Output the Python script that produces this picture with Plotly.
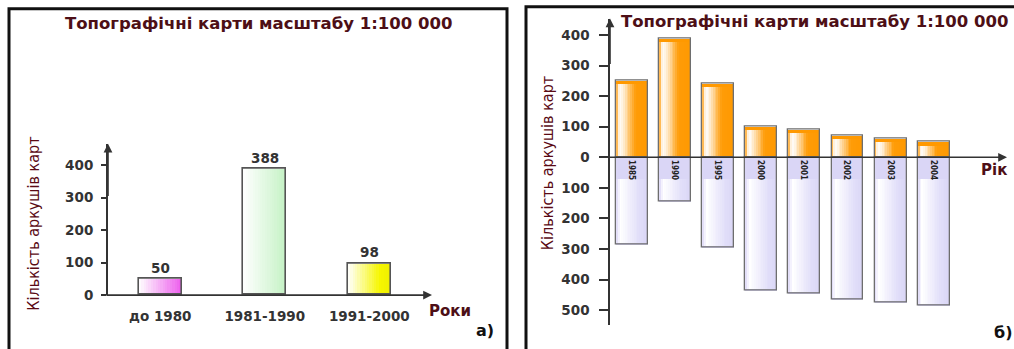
import plotly.graph_objects as go

W, H = 1014, 349

# ---- data: panel a) ----
periods = ["до 1980", "1981-1990", "1991-2000"]
sheets_a = [50, 388, 98]

# ---- data: panel б) ----
years = ["1985", "1990", "1995", "2000", "2001", "2002", "2003", "2004"]
upper_vals = [250, 390, 240, 100, 90, 70, 60, 50]
lower_vals = [285, 145, 295, 435, 445, 465, 475, 485]

y_ticks_a = [0, 100, 200, 300, 400]
y_ticks_b = [-500, -400, -300, -200, -100, 0, 100, 200, 300, 400]

TITLE = "Топографічні карти масштабу 1:100 000"
Y_TITLE = "Кількість аркушів карт"
MAROON = "#4d0f16"
DARK = "#333333"
BOLD = "DejaVu Sans, Verdana, sans-serif"
NARROW = "DejaVu Sans Condensed, Liberation Sans Narrow, sans-serif"
TICK = 13.5


def px_x(p):
    return p / W


def px_y(p):
    return 1 - p / H


def hex2rgb(h):
    h = h.lstrip("#")
    return tuple(int(h[i:i + 2], 16) for i in (0, 2, 4))


def ramp(stops, t):
    for (t0, c0), (t1, c1) in zip(stops, stops[1:]):
        if t0 <= t <= t1:
            f = 0 if t1 == t0 else (t - t0) / (t1 - t0)
            a, b = hex2rgb(c0), hex2rgb(c1)
            return "rgb(%d,%d,%d)" % tuple(round(a[i] + (b[i] - a[i]) * f) for i in range(3))
    return stops[-1][1]


def gradient_bars(fig, x, y, base, width, stops_per_bar, xa, ya, n=18):
    """Horizontal colour ramp inside each bar, built from thin side-by-side bars."""
    step = width / n
    for k in range(n):
        t = (k + 0.5) / n
        colors = [ramp(s, t) for s in stops_per_bar]
        off = -width / 2 + k * step
        w = min(step * 1.35, width / 2 - off)
        fig.add_trace(go.Bar(
            x=x, y=y, base=base, offset=off, width=w,
            marker=dict(color=colors, line=dict(width=0)),
            xaxis=xa, yaxis=ya, hoverinfo="skip", showlegend=False,
        ))


fig = go.Figure()

# ---------- panel a) ----------
xa_pos = list(range(len(periods)))
bw_a = 0.41
grad_a = [
    [(0, "#ffffff"), (1, "#ec5cec")],
    [(0, "#ffffff"), (1, "#c4f2c4")],
    [(0, "#ffffff"), (0.75, "#f6f600"), (1, "#eeee00")],
]
gradient_bars(fig, xa_pos, sheets_a, None, bw_a, grad_a, "x", "y")
fig.add_trace(go.Bar(
    x=xa_pos, y=sheets_a, width=bw_a,
    marker=dict(color="rgba(0,0,0,0)", line=dict(color="#555555", width=1.6)),
    xaxis="x", yaxis="y", hoverinfo="skip", showlegend=False,
))
# value labels just above each bar
for xi, v in zip(xa_pos, sheets_a):
    fig.add_annotation(x=xi, y=v, xref="x", yref="y", text=str(v),
                       showarrow=False, yanchor="middle", yshift=11,
                       font=dict(family=BOLD, size=TICK, color=DARK, weight="bold"))

# ---------- panel б) ----------
xb_pos = list(range(len(years)))
bw_b = 0.74
orange_stops = [(0, "#ff9900"), (0.05, "#ffd49a"), (0.1, "#ffffff"),
                (0.22, "#fff1dc"), (0.6, "#ff9c08"), (1, "#ff9900")]
lav_stops = [(0, "#d9d5f6"), (0.07, "#f1effc"), (0.14, "#ffffff"),
             (0.72, "#e1def9"), (1, "#dad6f6")]

fig.add_trace(go.Bar(
    x=xb_pos, y=upper_vals, width=bw_b,
    marker=dict(color="#ff9900", line=dict(width=0)),
    xaxis="x2", yaxis="y2", hoverinfo="skip", showlegend=False,
))
gradient_bars(fig, xb_pos, [v - 10 for v in upper_vals], None, bw_b,
              [orange_stops] * len(years), "x2", "y2")
fig.add_trace(go.Bar(
    x=xb_pos, y=upper_vals, width=bw_b,
    marker=dict(color="rgba(0,0,0,0)", line=dict(color="#6e6e6e", width=1.3)),
    xaxis="x2", yaxis="y2", hoverinfo="skip", showlegend=False,
))

fig.add_trace(go.Bar(
    x=xb_pos, y=[-v for v in lower_vals], width=bw_b,
    marker=dict(color="#dad6f6", line=dict(width=0)),
    xaxis="x2", yaxis="y2", hoverinfo="skip", showlegend=False,
))
gradient_bars(fig, xb_pos, [-(v - 76) for v in lower_vals], [-70] * len(years), bw_b,
              [lav_stops] * len(years), "x2", "y2")
fig.add_trace(go.Bar(
    x=xb_pos, y=[-v for v in lower_vals], width=bw_b,
    marker=dict(color="rgba(0,0,0,0)", line=dict(color="#6e6e6e", width=1.3)),
    text=years, textposition="inside", insidetextanchor="start", textangle=90,
    constraintext="none",
    insidetextfont=dict(family=NARROW, size=8, color="#222222", weight="bold"),
    xaxis="x2", yaxis="y2", hoverinfo="skip", showlegend=False,
))

# ---------- axes ----------
fig.update_layout(
    width=W, height=H, margin=dict(l=0, r=0, t=0, b=0),
    paper_bgcolor="white", plot_bgcolor="rgba(0,0,0,0)",
    barmode="overlay", bargap=0, showlegend=False,
    xaxis=dict(domain=[px_x(108), px_x(432)], range=[-0.5, 2.6],
               tickvals=xa_pos, ticktext=periods, ticks="", showline=False,
               showgrid=False, zeroline=False, ticklabelstandoff=11,
               tickfont=dict(family=BOLD, size=TICK, color=DARK, weight="bold"),
               anchor="y", fixedrange=True),
    yaxis=dict(domain=[px_y(302), px_y(147)], range=[0, 466.2],
               tickvals=y_ticks_a, ticks="outside", ticklen=5, tickwidth=1.5,
               tickcolor=DARK, showline=True, linecolor=DARK, linewidth=2,
               showgrid=False, zeroline=False, ticklabelstandoff=5,
               tickfont=dict(family=BOLD, size=TICK, color=DARK, weight="bold"),
               anchor="x", fixedrange=True),
    xaxis2=dict(domain=[px_x(610), px_x(1007)], range=[-0.51, 8.7],
                showticklabels=False, ticks="", showline=False, showgrid=False,
                zeroline=False, anchor="y2", fixedrange=True),
    yaxis2=dict(domain=[px_y(333), px_y(19)], range=[-550, 454],
                tickvals=y_ticks_b, ticktext=[str(abs(v)) for v in y_ticks_b],
                ticks="outside", ticklen=9, tickwidth=1.5, tickcolor=DARK,
                showline=True, linecolor=DARK, linewidth=1.5, showgrid=False,
                zeroline=False, ticklabelstandoff=7,
                tickfont=dict(family=BOLD, size=TICK, color=DARK, weight="bold"),
                anchor="x2", fixedrange=True),
)

# axis arrows
arrow = dict(showarrow=True, arrowhead=2, arrowsize=1.1, arrowwidth=1.6,
             arrowcolor=DARK, text="")
fig.add_annotation(x=2.6, y=0, ax=-0.53, ay=0, xref="x", yref="y",
                   axref="x", ayref="y", **arrow)
fig.add_annotation(x=-0.5, y=466.2, ax=-0.5, ay=300, xref="x", yref="y",
                   axref="x", ayref="y", **arrow)
fig.add_annotation(x=8.7, y=0, ax=-0.75, ay=0, xref="x2", yref="y2",
                   axref="x2", ayref="y2", **arrow)
fig.add_annotation(x=-0.51, y=454, ax=-0.51, ay=300, xref="x2", yref="y2",
                   axref="x2", ayref="y2", **arrow)


# texts
def label(x, y, text, size, color, family=BOLD, angle=0, xanchor="center", bold=True):
    fig.add_annotation(x=px_x(x), y=px_y(y), xref="paper", yref="paper",
                       text=text, showarrow=False, textangle=angle,
                       xanchor=xanchor, yanchor="middle",
                       font=dict(family=family, size=size, color=color,
                                 weight="bold" if bold else "normal"))


label(258, 24, TITLE, 16.5, MAROON)
label(619, 22, TITLE, 16.5, MAROON, xanchor="left")
label(34, 229, Y_TITLE, 16, "#5a0a14", family=NARROW, angle=-90, bold=False)
label(547, 167, Y_TITLE, 16, "#5a0a14", family=NARROW, angle=-90, bold=False)
label(450, 318, "Роки", 15, MAROON)
label(994, 174, "Рік", 15, MAROON)
label(485, 338, "а)", 16, "#111111")
label(1003, 340, "б)", 16, "#111111")

# panel frames
fig.add_shape(type="rect", xref="paper", yref="paper",
              x0=px_x(9), x1=px_x(507), y0=-0.1, y1=px_y(9),
              line=dict(color="#111111", width=3))
fig.add_shape(type="rect", xref="paper", yref="paper",
              x0=px_x(526), x1=1.05, y0=-0.1, y1=px_y(7),
              line=dict(color="#111111", width=3))

fig.write_html("out.html")
